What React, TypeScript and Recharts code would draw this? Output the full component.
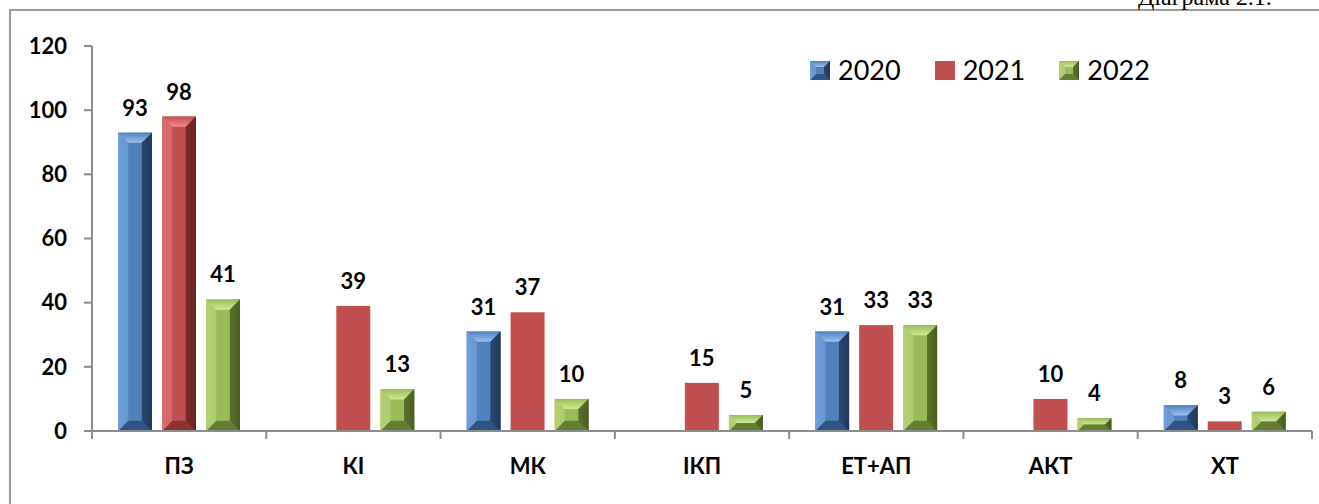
import { Bar, BarChart, LabelList, XAxis, YAxis } from "recharts";

const CATEGORIES = ["ПЗ", "КІ", "МК", "ІКП", "ЕТ+АП", "АКТ", "ХТ"];
const Y2020 = [93, null, 31, null, 31, null, 8];
const Y2021 = [98, 39, 37, 15, 33, 10, 3];
const Y2022 = [41, 13, 10, 5, 33, 4, 6];
const SERIES = ["2020", "2021", "2022"];
const Y_TICKS = [0, 20, 40, 60, 80, 100, 120];

const data = CATEGORIES.map((name, i) => ({
  name,
  y2020: Y2020[i],
  y2021: Y2021[i],
  y2022: Y2022[i],
}));

const FONT = "Lato, 'Open Sans', sans-serif";
const AXIS = "#8c8c8c";

type Pal = { id: string; base: string; light: string; mid: string; dark: string; top: string; bottom: string };

const BLUE: Pal = { id: "blue", base: "#4f81bd", light: "#6f9fdc", mid: "#4f81bd", dark: "#1f3a5e", top: "#9cc2f0", bottom: "#2f5384" };
const RED: Pal = { id: "red", base: "#c0504d", light: "#dc6f6b", mid: "#c0504d", dark: "#6a2321", top: "#f08c88", bottom: "#8a3432" };
const GREEN: Pal = { id: "green", base: "#9bbb59", light: "#b3d075", mid: "#9bbb59", dark: "#4b5e22", top: "#cdea95", bottom: "#667e34" };
const PALS = [BLUE, RED, GREEN];

function Defs() {
  return (
    <defs>
      {PALS.map((p) => (
        <linearGradient key={p.id} id={`body-${p.id}`} x1="0" y1="0" x2="1" y2="0">
          <stop offset="0%" stopColor={p.light} />
          <stop offset="35%" stopColor={p.mid} />
          <stop offset="70%" stopColor={p.mid} />
          <stop offset="100%" stopColor={p.dark} />
        </linearGradient>
      ))}
      {PALS.map((p) => (
        <linearGradient key={p.id + "t"} id={`top-${p.id}`} x1="0" y1="0" x2="0" y2="1">
          <stop offset="0%" stopColor={p.mid} />
          <stop offset="100%" stopColor={p.top} />
        </linearGradient>
      ))}
    </defs>
  );
}

function BevelBar(props: any) {
  const { x, y, width: w, height: h, pal, flat } = props;
  if (h == null || h <= 0 || w <= 0) return null;
  if (flat) return <rect x={x} y={y} width={w} height={h} fill={pal.base} />;
  const b = Math.min(w * 0.3, h / 2);
  return (
    <g>
      <rect x={x} y={y} width={w} height={h} fill={`url(#body-${pal.id})`} />
      <polygon
        points={`${x},${y} ${x + w},${y} ${x + w - b},${y + b} ${x + b},${y + b}`}
        fill={`url(#top-${pal.id})`}
      />
      <polygon
        points={`${x},${y + h} ${x + w},${y + h} ${x + w - b},${y + h - b} ${x + b},${y + h - b}`}
        fill={pal.bottom}
      />
      <polygon
        points={`${x + w},${y} ${x + w},${y + h} ${x + w - b},${y + h - b} ${x + w - b},${y + b}`}
        fill={pal.dark}
        opacity={0.8}
      />
      <polygon
        points={`${x},${y} ${x},${y + h} ${x + b},${y + h - b} ${x + b},${y + b}`}
        fill={pal.light}
        opacity={0.7}
      />
    </g>
  );
}

function CategoryTick(props: any) {
  const { x, y, payload, index, visibleTicksCount } = props;
  const half = payload.offset ?? 0;
  return (
    <g>
      <line x1={x - half} y1={y} x2={x - half} y2={y + 8} stroke={AXIS} strokeWidth={2} />
      {index === visibleTicksCount - 1 && (
        <line x1={x + half} y1={y} x2={x + half} y2={y + 8} stroke={AXIS} strokeWidth={2} />
      )}
      <text x={x} y={y + 43} textAnchor="middle" fontFamily={FONT} fontWeight={700} fontSize={22} fill="#000">
        {payload.value}
      </text>
    </g>
  );
}

function ChartLegend() {
  return (
    <div
      style={{
        position: "absolute",
        left: 810,
        top: 51,
        display: "flex",
        alignItems: "center",
        fontFamily: FONT,
        fontSize: 27,
        lineHeight: "38px",
        color: "#000",
      }}
    >
      {SERIES.map((s, i) => (
        <div key={s} style={{ display: "flex", alignItems: "center", marginRight: 34 }}>
          <svg width={20} height={19} style={{ marginRight: 8 }}>
            <BevelBar x={0} y={0} width={20} height={19} pal={PALS[i]} flat={i === 1} />
          </svg>
          <span>{s}</span>
        </div>
      ))}
    </div>
  );
}

const labelStyle = { fontFamily: FONT, fontWeight: 700, fontSize: 22, fill: "#000" };

export default function App() {
  return (
    <div style={{ position: "absolute", left: 0, top: 0, width: 1319, height: 504, overflow: "hidden", background: "#fff" }}>
      <div style={{ position: "absolute", left: 9, top: 9, width: 1400, height: 600, borderLeft: "2px solid #9a9a9a", borderTop: "2px solid #9a9a9a" }} />
      <div style={{ position: "absolute", left: 1138, top: -15, fontFamily: "'Liberation Serif', serif", fontSize: 24, lineHeight: 1, whiteSpace: "nowrap" }}>
        Діаграма 2.1.
      </div>
      <BarChart
        width={1319}
        height={504}
        data={data}
        margin={{ top: 46, right: 7, bottom: 33, left: 10 }}
        barSize={34}
        barGap={10}
        style={{ position: "absolute", left: 0, top: 0 }}
      >
        <Defs />
        <XAxis
          dataKey="name"
          height={40}
          tickLine={false}
          tickSize={0}
          tickMargin={0}
          interval={0}
          axisLine={{ stroke: AXIS, strokeWidth: 2 }}
          tick={<CategoryTick />}
        />
        <YAxis
          width={82}
          domain={[0, 120]}
          ticks={Y_TICKS}
          interval={0}
          tickSize={8}
          tickMargin={17}
          axisLine={{ stroke: AXIS, strokeWidth: 2 }}
          tickLine={{ stroke: AXIS, strokeWidth: 2 }}
          tick={labelStyle}
        />
        <Bar dataKey="y2020" name="2020" isAnimationActive={false} shape={(p: any) => <BevelBar {...p} pal={BLUE} />}>
          <LabelList dataKey="y2020" position="top" offset={17} style={labelStyle} />
        </Bar>
        <Bar dataKey="y2021" name="2021" isAnimationActive={false} shape={(p: any) => <BevelBar {...p} pal={RED} flat={p.index !== 0} />}>
          <LabelList dataKey="y2021" position="top" offset={17} style={labelStyle} />
        </Bar>
        <Bar dataKey="y2022" name="2022" isAnimationActive={false} shape={(p: any) => <BevelBar {...p} pal={GREEN} />}>
          <LabelList dataKey="y2022" position="top" offset={17} style={labelStyle} />
        </Bar>
      </BarChart>
      <ChartLegend />
    </div>
  );
}
